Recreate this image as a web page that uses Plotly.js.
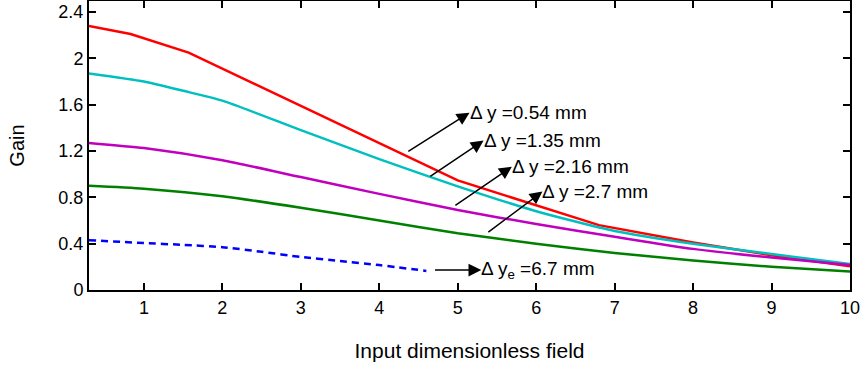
<!DOCTYPE html>
<html>
<head>
<meta charset="utf-8">
<script src="https://cdn.plot.ly/plotly-3.0.1.min.js"></script>
<style>html,body{margin:0;padding:0;background:#fff;}#chart{width:864px;height:366px;}</style>
</head>
<body>
<div id="chart"></div>
<script>
// Series data
const redX = [0.3, 0.83, 1.57, 3, 5, 6.8, 8, 9, 10];
const redY = [2.28, 2.21, 2.05, 1.59, 0.946, 0.56, 0.41, 0.30, 0.205];

const cyanX = [0.3, 1, 1.5, 2, 3, 4, 5, 6, 7, 8, 9, 10];
const cyanY = [1.87, 1.80, 1.72, 1.635, 1.38, 1.13, 0.895, 0.68, 0.51, 0.40, 0.31, 0.225];

const magentaX = [0.3, 1, 2, 3, 4, 5, 6, 7, 8, 9, 10];
const magentaY = [1.27, 1.225, 1.12, 0.975, 0.83, 0.69, 0.57, 0.46, 0.355, 0.28, 0.215];

const greenX = [0.3, 1, 2, 3, 4, 5, 6, 7, 8, 9, 10];
const greenY = [0.90, 0.875, 0.81, 0.71, 0.60, 0.49, 0.40, 0.32, 0.255, 0.20, 0.16];

const blueX = [0.3, 1, 1.5, 2, 2.5, 3, 3.5, 4, 4.6];
const blueY = [0.43, 0.405, 0.39, 0.37, 0.33, 0.285, 0.25, 0.215, 0.165];

const seriesLabels = ['\u0394 y =0.54 mm', '\u0394 y =1.35 mm', '\u0394 y =2.16 mm', '\u0394 y =2.7 mm', '\u0394 y<sub>e</sub> =6.7 mm'];

const xTickVals = [1, 2, 3, 4, 5, 6, 7, 8, 9, 10];
const xTickText = ['1', '2', '3', '4', '5', '6', '7', '8', '9', '10'];
const yTickVals = [0, 0.4, 0.8, 1.2, 1.6, 2, 2.4];
const yTickText = ['0', '0.4', '0.8', '1.2', '1.6', '2', '2.4'];

const FONT = 'Liberation Sans, Arial, Helvetica, sans-serif';
const LW = 2.5;

const traces = [
  {x: redX, y: redY, name: seriesLabels[0], mode: 'lines', line: {color: '#ff0000', width: LW}},
  {x: cyanX, y: cyanY, name: seriesLabels[1], mode: 'lines', line: {color: '#00bfbf', width: LW, shape: 'spline', smoothing: 0.6}},
  {x: magentaX, y: magentaY, name: seriesLabels[2], mode: 'lines', line: {color: '#bf00bf', width: LW, shape: 'spline', smoothing: 0.6}},
  {x: greenX, y: greenY, name: seriesLabels[3], mode: 'lines', line: {color: '#008000', width: LW, shape: 'spline', smoothing: 0.6}},
  {x: blueX, y: blueY, name: seriesLabels[4], mode: 'lines', line: {color: '#0000ff', width: LW, dash: '7px,5px', shape: 'spline', smoothing: 0.6}}
];

// arrow tail (tx,ty) on the lower left and head (hx,hy) where the label starts, in data units
const arrowDefs = [
  {tx: 4.37, ty: 1.196, hx: 5.15, hy: 1.531},
  {tx: 4.65, ty: 0.981, hx: 5.33, hy: 1.290},
  {tx: 4.97, ty: 0.731, hx: 5.69, hy: 1.065},
  {tx: 5.39, ty: 0.499, hx: 6.08, hy: 0.850},
  {tx: 4.71, ty: 0.172, hx: 5.30, hy: 0.172}
];

const annotations = arrowDefs.map((a, i) => ({
  x: a.tx, y: a.ty, ax: a.hx, ay: a.hy, xref: 'x', yref: 'y', axref: 'x', ayref: 'y',
  text: seriesLabels[i], showarrow: true, arrowside: 'start',
  startarrowhead: 2, startarrowsize: 1.7, arrowwidth: 1.5, arrowcolor: '#000',
  standoff: 0, startstandoff: 0, borderpad: 0, borderwidth: 0,
  xanchor: 'left', yanchor: 'middle',
  font: {family: FONT, size: 19, color: '#000'}
}));

const layout = {
  width: 864, height: 366,
  margin: {l: 89, r: 14, t: 1, b: 76, pad: 0},
  paper_bgcolor: '#fff', plot_bgcolor: '#fff',
  showlegend: false,
  font: {family: FONT, size: 18, color: '#000'},
  xaxis: {
    range: [0.3, 10], tickmode: 'array', tickvals: xTickVals, ticktext: xTickText,
    ticks: 'inside', ticklen: 7, tickwidth: 2, tickcolor: '#000',
    showline: true, linewidth: 2, linecolor: '#000', mirror: 'ticks',
    showgrid: false, zeroline: false,
    tickfont: {family: FONT, size: 18, color: '#000'},
    title: {text: 'Input dimensionless field', font: {family: FONT, size: 21, color: '#000'}, standoff: 27}
  },
  yaxis: {
    range: [0, 2.495], tickmode: 'array', tickvals: yTickVals, ticktext: yTickText,
    ticks: 'inside', ticklen: 7, tickwidth: 2, tickcolor: '#000',
    showline: true, linewidth: 2, linecolor: '#000', mirror: 'ticks',
    showgrid: false, zeroline: false,
    tickfont: {family: FONT, size: 18, color: '#000'},
    title: {text: 'Gain', font: {family: FONT, size: 20, color: '#000'}, standoff: 28}
  },
  annotations: annotations
};

Plotly.newPlot('chart', traces, layout, {staticPlot: true, displayModeBar: false});
</script>
</body>
</html>
